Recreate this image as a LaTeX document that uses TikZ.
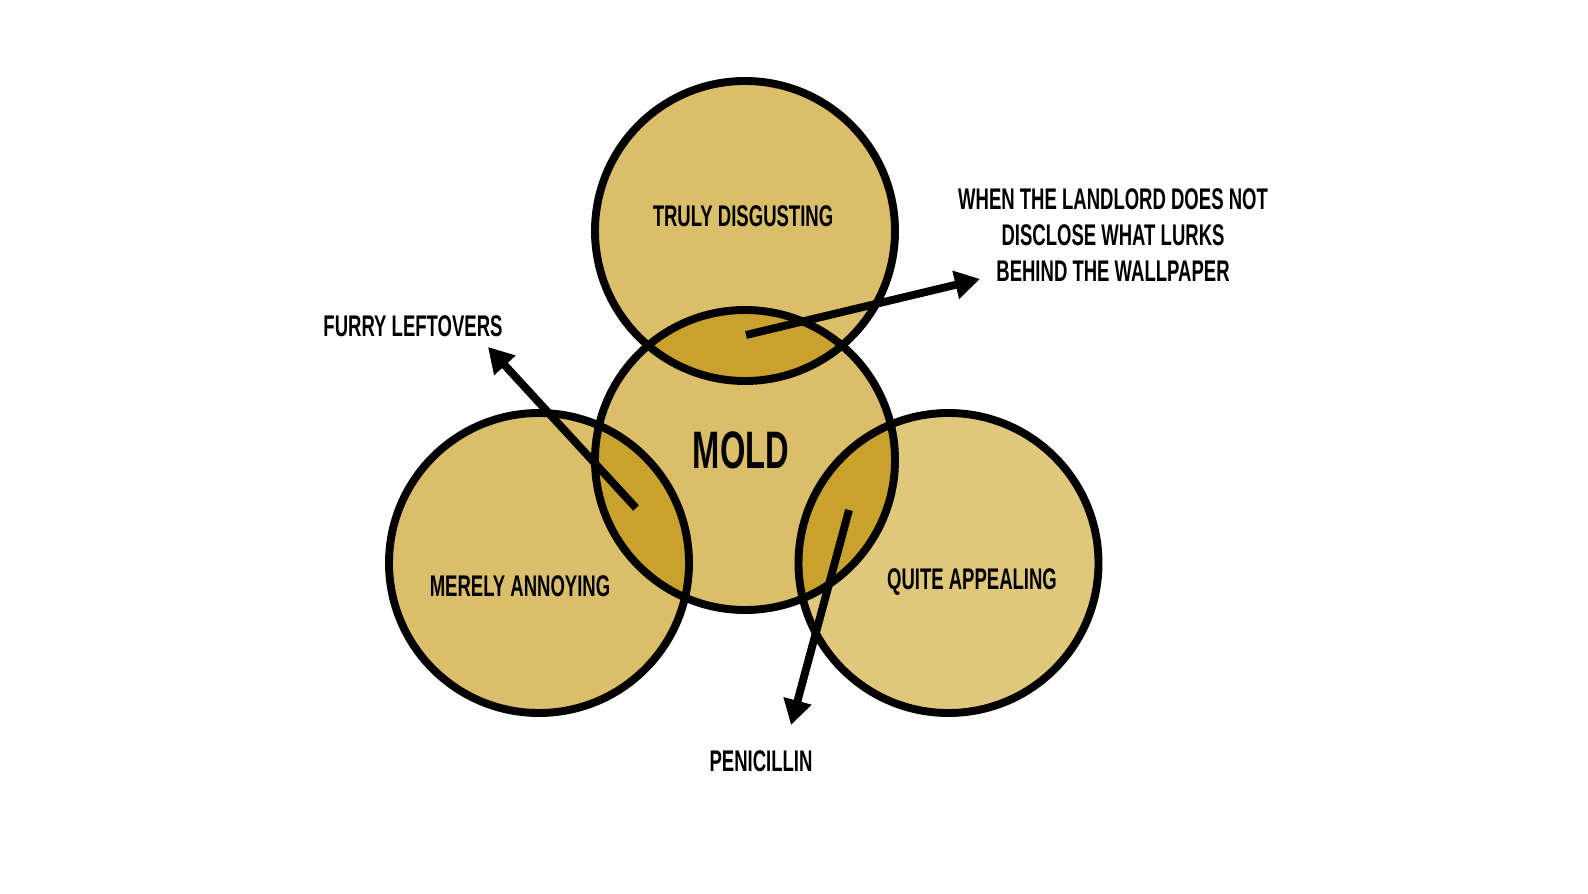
\documentclass[tikz,border=0pt]{standalone}
\usepackage{fontspec}
\setmainfont{Liberation Sans}[FakeStretch=0.62]
\usetikzlibrary{arrows.meta}
\definecolor{moldtan}{RGB}{218,190,106}
\definecolor{moldlight}{RGB}{223,199,124}
\definecolor{molddark}{RGB}{201,162,46}
\tikzset{
  blob/.style={circle, minimum size=6cm, inner sep=0pt, fill=#1},
  ring/.style={line width=4.5pt},
  tag/.style={font=\bfseries\fontsize{17}{20.5}\selectfont, align=center},
  pointer/.style={line width=4.5pt, -{Triangle[length=0.5cm,width=0.55cm]}}
}
\begin{document}
\begin{tikzpicture}
      \useasboundingbox (0,0) rectangle (31.76,17.86);
      % the four sets
      \node[blob=moldtan] (top) at (14.90,13.24) {};
      \node[blob=moldtan] (mid) at (14.90,8.66) {};
      \node[blob=moldtan] (left) at (10.78,6.60) {};
      \node[blob=moldlight] (right) at (18.97,6.60) {};
      % overlaps
      \begin{scope}
        \clip (mid.center) circle (3);
        \fill[molddark] (top.center) circle (3);
        \fill[molddark] (left.center) circle (3);
        \fill[molddark] (right.center) circle (3);
      \end{scope}
      \begin{scope}[ring]
        \draw (top.center) circle (3);
        \draw (mid.center) circle (3);
        \draw (left.center) circle (3);
        \draw (right.center) circle (3);
      \end{scope}
      % labels
      \node[tag] (disg) at (14.86,13.54) {TRULY DISGUSTING};
      \node[tag, font=\bfseries\fontsize{30}{32}\selectfont] (mold) at (14.82,8.86) {MOLD};
      \node[tag] (annoy) at (10.40,6.14) {MERELY ANNOYING};
      \node[tag] (appeal) at (19.44,6.22) {QUITE APPEALING};
      \node[tag] (furry) at (8.26,11.34) {FURRY LEFTOVERS};
      \node[tag] (wall) at (22.26,13.15) {WHEN THE LANDLORD DOES NOT\\DISCLOSE WHAT LURKS\\BEHIND THE WALLPAPER};
      \node[tag] (peni) at (15.22,2.64) {PENICILLIN};
      % pointers
      \coordinate (wallfrom) at (14.92,11.16);
      \coordinate (wallto) at (19.60,12.28);
      \coordinate (furryfrom) at (12.72,7.70);
      \coordinate (furryto) at (9.76,10.92);
      \coordinate (penifrom) at (16.98,7.66);
      \coordinate (penito) at (15.82,3.36);
      \begin{scope}[pointer]
        \draw (wallfrom) to (wallto);
        \draw (furryfrom) to (furryto);
        \draw (penifrom) to (penito);
      \end{scope}
    \end{tikzpicture}
\end{document}
